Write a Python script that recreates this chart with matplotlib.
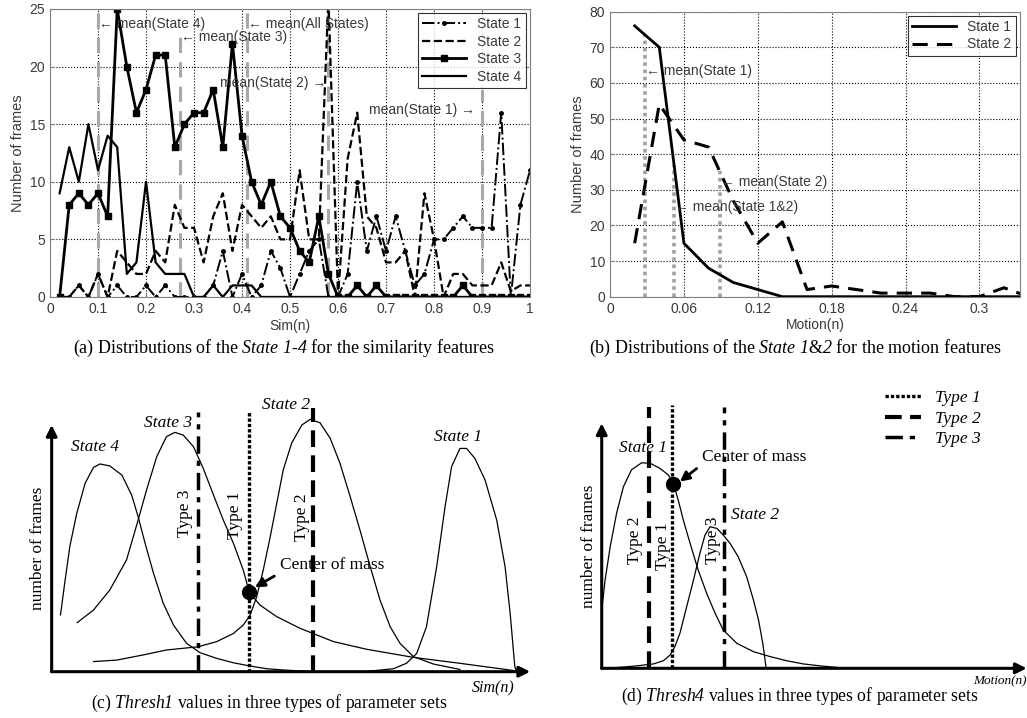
import numpy as np
import matplotlib.pyplot as plt

plt.rcParams['font.family'] = ['Liberation Sans', 'DejaVu Sans']
plt.rcParams['mathtext.fontset'] = 'custom'
plt.rcParams['mathtext.rm'] = 'Liberation Serif:italic'
plt.rcParams['mathtext.it'] = 'Liberation Serif:italic'

TXT = '#3a3a3a'
SERIF = ['Liberation Serif', 'DejaVu Serif']

# ---- (a) similarity feature histograms (bins 0.02 .. 1.00)
sim_x = np.round(np.arange(1, 51) * 0.02, 2)
sim_s1 = [0, 0, 1, 0, 2, 0, 1, 0, 0, 1, 0, 1, 0, 0, 0, 0, 1, 4, 0, 2,
          0, 1, 4, 2.5, 0, 2, 4, 5, 0, 0, 2, 10, 4, 7, 4, 7, 4, 1, 2, 5,
          5, 6, 7, 6, 6, 6, 16, 0, 8, 11]
sim_s2 = [0, 0, 1, 0, 2, 0, 4, 3, 2, 2, 4, 3, 8, 6, 6, 3, 7, 9, 4, 8,
          7, 6, 7, 5, 5, 11, 5, 5, 26, 0, 12, 16, 7, 6, 3, 3, 4, 0, 9, 5,
          0, 2, 2, 1, 1, 1, 3, 0.5, 1, 1]
sim_s3 = [0, 8, 9, 8, 9, 7, 25, 20, 16, 18, 21, 21, 13, 15, 16, 16, 18, 13, 22, 14,
          10, 8, 10, 7, 6, 4, 3, 7, 2, 0, 0, 1, 0, 1, 0, 0, 0, 0, 0, 0,
          0, 0, 1, 0, 0, 0, 0, 0, 0, 0]
sim_s4 = [9, 13, 10, 15, 11, 14, 13, 2, 3, 10, 3, 2, 2, 2, 0, 0, 1, 0, 1, 1,
          1, 0, 0, 0, 0, 0, 0, 0, 0, 0, 0, 0, 0, 0, 0, 0, 0, 0, 0, 0,
          0, 0, 0, 0, 0, 0, 0, 0, 0, 0]
sim_means = [0.10, 0.27, 0.41, 0.58, 0.90]
sim_mean_tops = [25, 23, 25, 25, 18]
sim_mean_labels = ['\u2190 mean(State 4)', '\u2190 mean(State 3)', '\u2190 mean(All States)',
                   'mean(State 2) \u2192', 'mean(State 1) \u2192']
sim_mean_label_y = [23.7, 22.6, 23.7, 18.6, 16.2]

# ---- (b) motion feature histograms
mot_x = [0.02, 0.04, 0.06, 0.08, 0.10, 0.12, 0.14, 0.16, 0.18, 0.20,
         0.22, 0.24, 0.26, 0.28, 0.30, 0.32, 0.34]
mot_s1 = [76, 70, 15, 8, 4, 2, 0, 0, 0, 0, 0, 0, 0, 0, 0, 0, 0]
mot_s2 = [15, 54, 44, 42, 27, 15, 21, 2, 3, 2, 1, 1, 1, 0, 0, 2.5, 0]
mot_means = [0.0284, 0.052, 0.089]
mot_mean_labels = ['\u2190 mean(State 1)', '\u2190 mean(State 1&2)', '\u2190 mean(State 2)']
mot_mean_label_y = [63.2, 25.3, 32.3]

# ---- (c) schematic Sim(n) distributions (axis units: x 0..1, height 0..1)
c4_x = [0.019, 0.029, 0.039, 0.054, 0.072, 0.090, 0.104, 0.125, 0.151, 0.172, 0.186, 0.201,
        0.219, 0.240, 0.262, 0.290, 0.319, 0.355, 0.391, 0.427, 0.462, 0.498, 0.563]
c4_y = [0.230, 0.372, 0.507, 0.642, 0.764, 0.828, 0.842, 0.834, 0.797, 0.716, 0.628, 0.520,
        0.399, 0.277, 0.189, 0.115, 0.077, 0.054, 0.036, 0.023, 0.012, 0.007, 0.0]
c3_x = [0.055, 0.090, 0.125, 0.161, 0.186, 0.204, 0.226, 0.247, 0.265, 0.283, 0.305, 0.326,
        0.348, 0.369, 0.391, 0.412, 0.425, 0.448, 0.484, 0.534, 0.606, 0.677, 0.778, 0.878, 0.996]
c3_y = [0.199, 0.250, 0.331, 0.453, 0.615, 0.736, 0.872, 0.953, 0.970, 0.959, 0.912, 0.824,
        0.716, 0.615, 0.520, 0.412, 0.322, 0.270, 0.223, 0.176, 0.122, 0.091, 0.058, 0.034, 0.004]
c2_x = [0.090, 0.140, 0.197, 0.247, 0.315, 0.355, 0.391, 0.412, 0.427, 0.441, 0.455, 0.470,
        0.484, 0.498, 0.516, 0.538, 0.556, 0.577, 0.599, 0.620, 0.642, 0.663, 0.685, 0.706,
        0.728, 0.749, 0.778, 0.821, 0.878]
c2_y = [0.041, 0.047, 0.068, 0.088, 0.101, 0.122, 0.155, 0.189, 0.230, 0.304, 0.412, 0.547,
        0.682, 0.818, 0.926, 1.000, 1.023, 1.009, 0.946, 0.845, 0.709, 0.574, 0.426, 0.291,
        0.182, 0.115, 0.061, 0.031, 0.009]
c1_x = [0.677, 0.735, 0.763, 0.785, 0.806, 0.828, 0.846, 0.860, 0.878, 0.892, 0.910, 0.932,
        0.957, 0.975, 0.986, 0.996, 1.000]
c1_y = [0.001, 0.012, 0.034, 0.074, 0.182, 0.426, 0.669, 0.831, 0.905, 0.905, 0.865, 0.777,
        0.615, 0.426, 0.236, 0.020, 0.0]
c_types = [0.425, 0.563, 0.315]          # Type 1, Type 2, Type 3
c_type_tops = [1.058, 1.068, 1.054]
c_center = (0.425, 0.322)

# ---- (d) schematic Motion(n) distributions
d1_x = [0.0, 0.008, 0.020, 0.035, 0.051, 0.070, 0.094, 0.114, 0.137, 0.157, 0.169, 0.180,
        0.192, 0.208, 0.227, 0.247, 0.267, 0.286, 0.318, 0.357, 0.396, 0.435, 0.474, 0.514, 0.576]
d1_y = [0.238, 0.361, 0.497, 0.633, 0.741, 0.810, 0.839, 0.837, 0.816, 0.789, 0.752, 0.687,
        0.605, 0.510, 0.401, 0.306, 0.224, 0.156, 0.102, 0.068, 0.048, 0.031, 0.018, 0.010, 0.0]
d2_x = [0.0, 0.043, 0.082, 0.122, 0.145, 0.161, 0.172, 0.184, 0.200, 0.216, 0.231, 0.243,
        0.255, 0.271, 0.286, 0.302, 0.321, 0.341, 0.357, 0.369, 0.379, 0.387]
d2_y = [0.0, 0.004, 0.010, 0.018, 0.031, 0.054, 0.088, 0.143, 0.252, 0.361, 0.469, 0.544,
        0.578, 0.571, 0.544, 0.510, 0.456, 0.374, 0.279, 0.197, 0.102, 0.0]
d_types = [0.166, 0.112, 0.288]
d_type_tops = [1.075, 1.068, 1.068]
d_center = (0.167, 0.752)

type_styles = [dict(linestyle=(0, (1, 0.6)), lw=2.4),
               dict(linestyle=(0, (4, 2)), lw=3.0),
               dict(linestyle=(0, (5, 2, 1.5, 2)), lw=2.5)]
type_names = ['Type 1', 'Type 2', 'Type 3']


def style_top(ax):
    ax.grid(True, linestyle=':', color='k', lw=0.8)
    ax.set_axisbelow(True)
    for s in ax.spines.values():
        s.set_color('#808080')
    ax.tick_params(direction='in', length=3, labelsize=10, labelcolor=TXT, color='#808080')


def draw_schematic(ax, curves, types, tops, xtip):
    ax.set_xlim(0, 1)
    ax.set_ylim(0, 1)
    ax.axis('off')
    arrow = dict(arrowstyle='-|>', lw=2.2, color='k', mutation_scale=16, shrinkA=0, shrinkB=0)
    ax.annotate('', xy=(0, 1), xytext=(0, 0), arrowprops=arrow, annotation_clip=False)
    ax.annotate('', xy=(xtip, 0), xytext=(0, 0), arrowprops=arrow, annotation_clip=False)
    for cx, cy in curves:
        ax.plot(cx, cy, color='k', lw=0.9, clip_on=False)
    handles = []
    for t, top, st, name in zip(types, tops, type_styles, type_names):
        h, = ax.plot([t, t], [0, top], color='k', clip_on=False, label=name, **st)
        handles.append(h)
    ax.text(-0.03, 0.5, 'number of frames', rotation=90, ha='center', va='center',
            family=SERIF, fontsize=12.5)
    return handles


fig = plt.figure(figsize=(10.27, 7.18), dpi=100)

# ---------------- (a)
ax_a = fig.add_axes([0.0487, 0.5864, 0.4674, 0.4011])
style_top(ax_a)
for m, top in zip(sim_means, sim_mean_tops):
    ax_a.plot([m, m], [0, top], color='#a8a8a8', lw=2.2, linestyle=(0, (5, 3)), zorder=1.5)
ax_a.plot(sim_x, sim_s1, color='k', lw=1.4, linestyle='-.', marker='.', ms=5, label='State 1')
ax_a.plot(sim_x, sim_s2, color='k', lw=1.6, linestyle='--', label='State 2')
ax_a.plot(sim_x, sim_s3, color='k', lw=2.0, marker='s', ms=5, label='State 3')
ax_a.plot(sim_x, sim_s4, color='k', lw=1.6, label='State 4')
for m, lab, y in zip(sim_means, sim_mean_labels, sim_mean_label_y):
    if lab.startswith('\u2190'):
        ax_a.text(m + 0.002, y, lab, ha='left', va='center', fontsize=10, color=TXT)
    else:
        ax_a.text(m - 0.005 if m < 0.8 else m - 0.015, y, lab, ha='right', va='center',
                  fontsize=10, color=TXT)
ax_a.set_xlim(0, 1)
ax_a.set_ylim(0, 25)
ax_a.set_xticks(np.round(np.arange(0, 1.01, 0.1), 1))
ax_a.set_xticklabels(['0', '0.1', '0.2', '0.3', '0.4', '0.5', '0.6', '0.7', '0.8', '0.9', '1'])
ax_a.set_yticks([0, 5, 10, 15, 20, 25])
ax_a.set_xlabel('Sim(n)', fontsize=10, color=TXT, labelpad=2)
ax_a.set_ylabel('Number of frames', fontsize=10.5, color=TXT, labelpad=3)
leg = ax_a.legend(loc='upper right', fontsize=10, handlelength=3.2, numpoints=1,
                  fancybox=False, edgecolor='k', borderaxespad=0.3, labelspacing=0.25,
                  borderpad=0.3)
leg.get_frame().set_linewidth(0.8)
for t in leg.get_texts():
    t.set_color(TXT)

# ---------------- (b)
ax_b = fig.add_axes([0.594, 0.5868, 0.3992, 0.397])
style_top(ax_b)
mean_src = [mot_s1, mot_s1, mot_s2]
for m, src in zip(mot_means, mean_src):
    ax_b.plot([m, m], [0, np.interp(m, mot_x, src)], color='#a0a0a0', lw=2.6,
              linestyle=(0, (1, 1)), zorder=1.5)
ax_b.plot(mot_x, mot_s1, color='k', lw=2.0, label='State 1')
ax_b.plot(mot_x, mot_s2, color='k', lw=2.2, linestyle=(0, (5, 3)), label='State 2')
for m, lab, y in zip(mot_means, mot_mean_labels, mot_mean_label_y):
    ax_b.text(m + 0.001, y, lab, ha='left', va='center', fontsize=10, color=TXT)
ax_b.set_xlim(0, 0.333)
ax_b.set_ylim(0, 80)
ax_b.set_xticks([0, 0.06, 0.12, 0.18, 0.24, 0.3])
ax_b.set_xticklabels(['0', '0.06', '0.12', '0.18', '0.24', '0.3'])
ax_b.set_yticks(range(0, 81, 10))
ax_b.set_xlabel('Motion(n)', fontsize=10, color=TXT, labelpad=2)
ax_b.set_ylabel('Number of frames', fontsize=10.5, color=TXT, labelpad=3)
leg = ax_b.legend(loc='upper right', fontsize=10, handlelength=3.2, fancybox=False,
                  edgecolor='k', borderaxespad=0.3, labelspacing=0.25, borderpad=0.3)
leg.get_frame().set_linewidth(0.8)
for t in leg.get_texts():
    t.set_color(TXT)

fig.text(284 / 1027, 1 - 348 / 718,
         r'(a) Distributions of the $State\ 1$-$4$ for the similarity features',
         ha='center', va='center', family=SERIF, fontsize=13)
fig.text(795 / 1027, 1 - 348 / 718,
         r'(b) Distributions of the $State\ 1$&$2$ for the motion features',
         ha='center', va='center', family=SERIF, fontsize=13)

# ---------------- (c)
ax_c = fig.add_axes([0.0503, 0.0645, 0.4528, 0.3436])
draw_schematic(ax_c, [(c4_x, c4_y), (c3_x, c3_y), (c2_x, c2_y), (c1_x, c1_y)],
               c_types, c_type_tops, 1.029)
ax_c.plot(*c_center, 'o', color='k', ms=10, clip_on=False)
for lab, (x, y) in zip(['State 4', 'State 3', 'State 2', 'State 1'],
                       [(0.093, 0.912), (0.251, 1.009), (0.505, 1.081), (0.875, 0.950)]):
    ax_c.text(x, y, lab, ha='center', va='center', family=SERIF, style='italic', fontsize=12.5)
for lab, (x, y) in zip(['Type 3', 'Type 1', 'Type 2'],
                       [(0.287, 0.642), (0.394, 0.635), (0.538, 0.628)]):
    ax_c.text(x, y, lab, rotation=90, ha='center', va='center', family=SERIF, fontsize=12.5)
ax_c.annotate('Center of mass', xy=(0.437, 0.342), xytext=(0.490, 0.432), family=SERIF,
              fontsize=12.5, va='center', ha='left',
              arrowprops=dict(arrowstyle='-|>', lw=2, color='k', mutation_scale=14,
                              shrinkA=2, shrinkB=0, relpos=(0, 0)))
ax_c.text(0.996, -0.068, 'Sim(n)', ha='right', va='center', family=SERIF, style='italic',
          fontsize=11.5)
ax_c.text(0.469, -0.128, r'(c) $Thresh1$ values in three types of parameter sets',
          ha='center', va='center', family=SERIF, fontsize=12.7)

# ---------------- (d)
ax_d = fig.add_axes([0.5859, 0.0692, 0.4138, 0.3412])
handles = draw_schematic(ax_d, [(d1_x, d1_y), (d2_x, d2_y)], d_types, d_type_tops, 1.0)
ax_d.plot(*d_center, 'o', color='k', ms=10, clip_on=False)
ax_d.text(0.098, 0.898, 'State 1', ha='center', va='center', family=SERIF, style='italic',
          fontsize=12.5)
ax_d.text(0.361, 0.626, 'State 2', ha='center', va='center', family=SERIF, style='italic',
          fontsize=12.5)
for lab, (x, y) in zip(['Type 2', 'Type 1', 'Type 3'],
                       [(0.078, 0.524), (0.145, 0.497), (0.261, 0.524)]):
    ax_d.text(x, y, lab, rotation=90, ha='center', va='center', family=SERIF, fontsize=12.5)
ax_d.annotate('Center of mass', xy=(0.184, 0.762), xytext=(0.235, 0.864), family=SERIF,
              fontsize=12.5, va='center', ha='left',
              arrowprops=dict(arrowstyle='-|>', lw=2, color='k', mutation_scale=14,
                              shrinkA=2, shrinkB=0, relpos=(0, 0)))
ax_d.text(1.0, -0.054, 'Motion(n)', ha='right', va='center', family=SERIF, style='italic',
          fontsize=9.5)
ax_d.text(0.467, -0.116, r'(d) $Thresh4$ values in three types of parameter sets',
          ha='center', va='center', family=SERIF, fontsize=12.7)
ax_d.legend(handles=handles, loc='upper left', bbox_to_anchor=(885 / 1027, 1 - 390 / 718),
            bbox_transform=fig.transFigure, frameon=False, borderpad=0, borderaxespad=0,
            handlelength=2.1, handletextpad=0.8, labelspacing=0.25,
            prop=dict(family=SERIF, style='italic', size=12.5))

fig.savefig('out.png', dpi=100)
